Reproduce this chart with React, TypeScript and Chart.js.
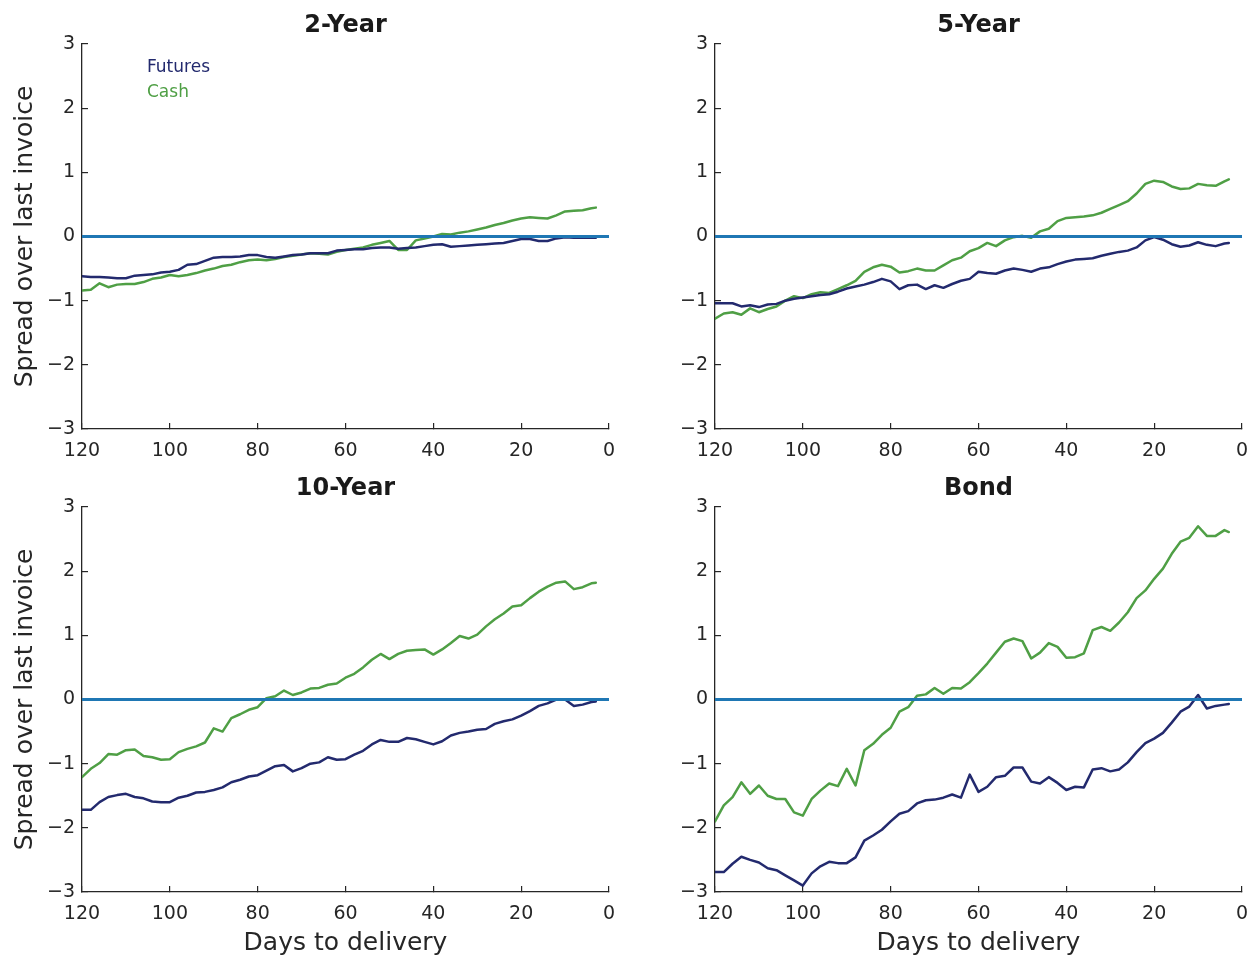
import React, { useEffect, useRef } from "react";
import { Chart, registerables } from "chart.js";

Chart.register(...registerables);

// ---- Data (days to delivery, every second day, last point day 3) ----
const days = [
  120, 118, 116, 114, 112, 110, 108, 106, 104, 102,
  100, 98, 96, 94, 92, 90, 88, 86, 84, 82,
  80, 78, 76, 74, 72, 70, 68, 66, 64, 62,
  60, 58, 56, 54, 52, 50, 48, 46, 44, 42,
  40, 38, 36, 34, 32, 30, 28, 26, 24, 22,
  20, 18, 16, 14, 12, 10, 8, 6, 4, 3,
];

const twoYearFutures = [
  -0.62, -0.63, -0.63, -0.64, -0.65, -0.65, -0.61, -0.6, -0.59, -0.56,
  -0.55, -0.52, -0.44, -0.43, -0.38, -0.33, -0.32, -0.32, -0.31, -0.29,
  -0.29, -0.32, -0.33, -0.31, -0.29, -0.28, -0.26, -0.26, -0.26, -0.22,
  -0.21, -0.2, -0.2, -0.18, -0.17, -0.17, -0.19, -0.18, -0.17, -0.15,
  -0.13, -0.12, -0.16, -0.15, -0.14, -0.13, -0.12, -0.11, -0.1, -0.07,
  -0.04, -0.04, -0.07, -0.07, -0.03, -0.01, -0.02, -0.02, -0.02, -0.02,
];
const twoYearCash = [
  -0.84, -0.83, -0.73, -0.79, -0.75, -0.74, -0.74, -0.71, -0.66, -0.64,
  -0.6, -0.62, -0.6, -0.57, -0.53, -0.5, -0.46, -0.44, -0.4, -0.37,
  -0.36, -0.37, -0.35, -0.32, -0.3, -0.28, -0.26, -0.27, -0.28, -0.24,
  -0.21, -0.19, -0.17, -0.13, -0.1, -0.07, -0.21, -0.21, -0.06, -0.03,
  0.0, 0.04, 0.03, 0.06, 0.08, 0.11, 0.14, 0.18, 0.21, 0.25,
  0.28, 0.3, 0.29, 0.28, 0.33, 0.39, 0.4, 0.41, 0.44, 0.45,
];

const fiveYearFutures = [
  -1.04, -1.04, -1.04, -1.09, -1.07, -1.1, -1.06, -1.05, -1.0, -0.97,
  -0.95, -0.93, -0.91, -0.9, -0.86, -0.81, -0.78, -0.75, -0.71, -0.66,
  -0.7, -0.82, -0.76, -0.75, -0.82, -0.76, -0.8, -0.74, -0.69, -0.66,
  -0.55, -0.57, -0.58, -0.53, -0.5, -0.52, -0.55, -0.5, -0.48, -0.43,
  -0.39, -0.36, -0.35, -0.34, -0.3, -0.27, -0.24, -0.22, -0.17, -0.06,
  -0.01, -0.05, -0.12, -0.16, -0.14, -0.09, -0.13, -0.15, -0.11, -0.1,
];
const fiveYearCash = [
  -1.28, -1.2, -1.18, -1.22, -1.12, -1.18, -1.13, -1.09, -1.0, -0.93,
  -0.96, -0.9, -0.87, -0.88, -0.82, -0.76, -0.69, -0.55, -0.48, -0.44,
  -0.47, -0.56, -0.54, -0.5, -0.53, -0.53, -0.45, -0.37, -0.33, -0.23,
  -0.18, -0.1, -0.15, -0.06, -0.01, 0.01, -0.02, 0.08, 0.12, 0.24,
  0.29, 0.3, 0.31, 0.33, 0.37, 0.43, 0.49, 0.55, 0.67, 0.82,
  0.87, 0.85, 0.78, 0.74, 0.75, 0.82, 0.8, 0.79, 0.86, 0.89,
];

const tenYearFutures = [
  -1.72, -1.72, -1.6, -1.52, -1.49, -1.47, -1.52, -1.54, -1.59, -1.6,
  -1.6, -1.53, -1.5, -1.45, -1.44, -1.41, -1.37, -1.29, -1.25, -1.2,
  -1.18, -1.11, -1.04, -1.02, -1.12, -1.07, -1.0, -0.98, -0.9, -0.94,
  -0.93, -0.86, -0.8, -0.7, -0.63, -0.66, -0.66, -0.6, -0.62, -0.66,
  -0.7, -0.65, -0.56, -0.52, -0.5, -0.47, -0.46, -0.38, -0.34, -0.31,
  -0.25, -0.18, -0.1, -0.06, 0.0, 0.0, -0.1, -0.08, -0.04, -0.03,
];
const tenYearCash = [
  -1.21, -1.08, -0.99, -0.85, -0.86, -0.79, -0.78, -0.88, -0.9, -0.94,
  -0.93, -0.82, -0.77, -0.73, -0.67, -0.45, -0.5, -0.29, -0.23, -0.16,
  -0.12, 0.02, 0.05, 0.14, 0.07, 0.11, 0.17, 0.18, 0.23, 0.25,
  0.34, 0.4, 0.5, 0.62, 0.71, 0.63, 0.71, 0.76, 0.77, 0.78,
  0.7, 0.78, 0.88, 0.99, 0.95, 1.01, 1.14, 1.25, 1.34, 1.45,
  1.47, 1.58, 1.68, 1.76, 1.82, 1.84, 1.72, 1.75, 1.81, 1.82,
];

const bondFutures = [
  -2.69, -2.69, -2.56, -2.45, -2.5, -2.54, -2.63, -2.66, -2.74, -2.82,
  -2.9, -2.71, -2.6, -2.53, -2.55, -2.55, -2.46, -2.2, -2.12, -2.03,
  -1.9, -1.78, -1.74, -1.62, -1.57, -1.56, -1.53, -1.48, -1.53, -1.17,
  -1.44, -1.36, -1.21, -1.19, -1.06, -1.06, -1.28, -1.31, -1.21, -1.3,
  -1.41, -1.36, -1.37, -1.09, -1.07, -1.12, -1.09, -0.98, -0.82, -0.68,
  -0.61, -0.52, -0.36, -0.19, -0.11, 0.07, -0.14, -0.1, -0.08, -0.07,
];
const bondCash = [
  -1.9, -1.65, -1.52, -1.29, -1.47, -1.34, -1.5, -1.55, -1.55, -1.76,
  -1.81, -1.55, -1.42, -1.31, -1.35, -1.08, -1.34, -0.79, -0.69, -0.55,
  -0.44, -0.19, -0.12, 0.06, 0.08, 0.18, 0.09, 0.18, 0.17, 0.27,
  0.41, 0.56, 0.73, 0.9, 0.95, 0.91, 0.64, 0.73, 0.88, 0.82,
  0.65, 0.66, 0.72, 1.08, 1.13, 1.07, 1.2, 1.36, 1.58, 1.7,
  1.88, 2.04, 2.27, 2.46, 2.52, 2.7, 2.55, 2.55, 2.64, 2.61,
];

const xTickValues = [120, 100, 80, 60, 40, 20, 0];
const yTickValues = [-3, -2, -1, 0, 1, 2, 3];
const seriesNames = ["Futures", "Cash"];
const panelTitles = ["2-Year", "5-Year", "10-Year", "Bond"];
const yAxisTitle = "Spread over last invoice";
const xAxisTitle = "Days to delivery";

// ---- Styles ----
const NAVY = "#232a6e";
const GREEN = "#4f9f45";
const BLUE = "#1f77b4";
const INK = "#262626";
const FONT = "'DejaVu Sans', 'Liberation Sans', sans-serif";

type Area = { l: number; r: number; t: number; b: number };
type PanelDef = {
  title: string;
  futures: number[];
  cash: number[];
  left: number;
  top: number;
  width: number;
  height: number;
  area: Area;
  yLabel: boolean;
  xLabel: boolean;
  legend: boolean;
};

const toXY = (vals: number[]) => days.map((d, i) => ({ x: d, y: vals[i] }));
const fmt = (v: number) => (v < 0 ? "\u2212" + Math.abs(v) : String(v));

function Panel({ def }: { def: PanelDef }) {
  const ref = useRef<HTMLCanvasElement | null>(null);
  useEffect(() => {
    if (!ref.current) return;
    const { area, width, height } = def;
    const textPlugin = {
      id: "panelText",
      afterDraw(chart: any) {
        const ctx = chart.ctx as CanvasRenderingContext2D;
        const ca = chart.chartArea;
        const cx = (ca.left + ca.right) / 2;
        const cy = (ca.top + ca.bottom) / 2;
        ctx.save();
        ctx.fillStyle = "#1a1a1a";
        ctx.textAlign = "center";
        ctx.textBaseline = "middle";
        ctx.font = `bold 24px ${FONT}`;
        ctx.fillText(def.title, cx, ca.top - 18);
        ctx.fillStyle = INK;
        if (def.yLabel) {
          ctx.save();
          ctx.translate(25, cy);
          ctx.rotate(-Math.PI / 2);
          ctx.font = `25px ${FONT}`;
          ctx.fillText(yAxisTitle, 0, 0);
          ctx.restore();
        }
        if (def.xLabel) {
          ctx.font = `25px ${FONT}`;
          ctx.fillText(xAxisTitle, cx, 943 - def.top);
        }
        if (def.legend) {
          ctx.textAlign = "left";
          ctx.font = `17px ${FONT}`;
          ctx.fillStyle = NAVY;
          ctx.fillText(seriesNames[0], 147, 68 - def.top);
          ctx.fillStyle = GREEN;
          ctx.fillText(seriesNames[1], 147, 93 - def.top);
        }
        ctx.restore();
      },
    };
    const chart = new Chart(ref.current, {
      type: "line",
      data: {
        datasets: [
          {
            label: "zero",
            data: [
              { x: 120, y: 0 },
              { x: 0, y: 0 },
            ],
            borderColor: BLUE,
            borderWidth: 2.8,
            order: 0,
          },
          {
            label: seriesNames[0],
            data: toXY(def.futures),
            borderColor: NAVY,
            borderWidth: 2.5,
            order: 1,
          },
          {
            label: seriesNames[1],
            data: toXY(def.cash),
            borderColor: GREEN,
            borderWidth: 2.5,
            order: 2,
          },
        ],
      },
      options: {
        animation: false,
        responsive: false,
        devicePixelRatio: 1,
        layout: {
          padding: { left: 0, top: area.t, right: width - area.r, bottom: 0 },
        },
        plugins: {
          legend: { display: false },
          tooltip: { enabled: false },
          title: { display: false },
        },
        elements: {
          point: { radius: 0 },
          line: { tension: 0, borderJoinStyle: "round", borderCapStyle: "round" },
        },
        scales: {
          x: {
            type: "linear",
            reverse: true,
            min: 0,
            max: 120,
            afterBuildTicks: (s: any) => {
              s.ticks = xTickValues.map((v) => ({ value: v }));
            },
            afterFit: (s: any) => {
              s.height = height - area.b;
              s.paddingLeft = 0;
              s.paddingRight = 0;
              s.paddingTop = 0;
              s.paddingBottom = 0;
            },
            grid: {
              display: true,
              drawOnChartArea: false,
              drawTicks: true,
              tickLength: -6,
              color: INK,
              lineWidth: 1.2,
            },
            border: { display: true, color: INK, width: 1.3 },
            ticks: {
              color: INK,
              font: { family: FONT, size: 19 },
              padding: 17,
              maxRotation: 0,
              autoSkip: false,
              callback: (v: any) => fmt(Number(v)),
            },
          },
          y: {
            type: "linear",
            min: -3,
            max: 3,
            afterBuildTicks: (s: any) => {
              s.ticks = yTickValues.map((v) => ({ value: v }));
            },
            afterFit: (s: any) => {
              s.width = area.l;
              s.paddingLeft = 0;
              s.paddingRight = 0;
              s.paddingTop = 0;
              s.paddingBottom = 0;
            },
            grid: {
              display: true,
              drawOnChartArea: false,
              drawTicks: true,
              tickLength: -6,
              color: INK,
              lineWidth: 1.2,
            },
            border: { display: true, color: INK, width: 1.3 },
            ticks: {
              color: INK,
              font: { family: FONT, size: 19 },
              padding: 13,
              autoSkip: false,
              callback: (v: any) => fmt(Number(v)),
            },
          },
        },
      } as any,
      plugins: [textPlugin],
    });
    return () => chart.destroy();
  }, [def]);
  return (
    <canvas
      ref={ref}
      width={def.width}
      height={def.height}
      style={{
        position: "absolute",
        left: def.left,
        top: def.top,
        width: def.width,
        height: def.height,
      }}
    />
  );
}

const panels: PanelDef[] = [
  {
    title: panelTitles[0], futures: twoYearFutures, cash: twoYearCash,
    left: 0, top: 0, width: 630, height: 470,
    area: { l: 82, r: 609, t: 44, b: 429 },
    yLabel: true, xLabel: false, legend: true,
  },
  {
    title: panelTitles[1], futures: fiveYearFutures, cash: fiveYearCash,
    left: 630, top: 0, width: 630, height: 470,
    area: { l: 85, r: 612, t: 44, b: 429 },
    yLabel: false, xLabel: false, legend: false,
  },
  {
    title: panelTitles[2], futures: tenYearFutures, cash: tenYearCash,
    left: 0, top: 470, width: 630, height: 488,
    area: { l: 82, r: 609, t: 37, b: 422 },
    yLabel: true, xLabel: true, legend: false,
  },
  {
    title: panelTitles[3], futures: bondFutures, cash: bondCash,
    left: 630, top: 470, width: 630, height: 488,
    area: { l: 85, r: 612, t: 37, b: 422 },
    yLabel: false, xLabel: true, legend: false,
  },
];

export default function App() {
  return (
    <div
      style={{
        position: "fixed",
        left: 0,
        top: 0,
        width: 1260,
        height: 958,
        background: "#ffffff",
        overflow: "hidden",
      }}
    >
      {panels.map((p) => (
        <Panel key={p.title} def={p} />
      ))}
    </div>
  );
}
